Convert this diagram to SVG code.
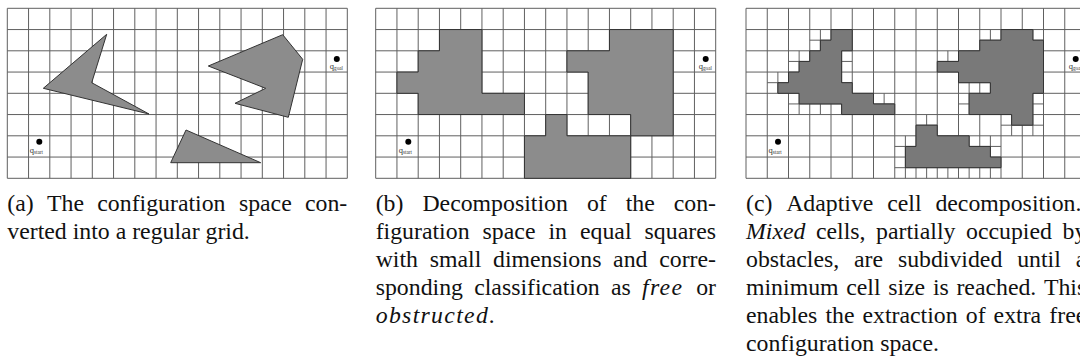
<svg xmlns="http://www.w3.org/2000/svg" xmlns:xlink="http://www.w3.org/1999/xlink" width="1080" height="363" viewBox="0 0 1080 363">
<style>
.grid{fill:none;stroke:#606060;stroke-width:1}
.sub{fill:none;stroke:#606060;stroke-width:1}
.obs{fill:#8c8c8c;stroke:#333;stroke-width:1;stroke-linejoin:miter}
.obsc{fill:#797979;stroke:#333;stroke-width:1}
.dot{fill:#000}
.q{font-family:"Liberation Serif",serif;font-size:8.5px;fill:#333}
.qs{font-size:5.2px}
.cap{font-family:"Liberation Serif",serif;font-size:23.8px;fill:#111}
.it{font-style:italic}
.m{font-style:italic;letter-spacing:1.3px}
</style>
<defs>
<path id="gridp" class="grid" d="M0 0V170M21.25 0V170M42.5 0V170M63.75 0V170M85 0V170M106.25 0V170M127.5 0V170M148.75 0V170M170 0V170M191.25 0V170M212.5 0V170M233.75 0V170M255 0V170M276.25 0V170M297.5 0V170M318.75 0V170M340 0V170M0 0H340M0 21.25H340M0 42.5H340M0 63.75H340M0 85H340M0 106.25H340M0 127.5H340M0 148.75H340M0 170H340"/>
</defs>
<rect width="1080" height="363" fill="#fff"/>

<g id="panel-a" transform="translate(7.3,8.3)">
<use xlink:href="#gridp" href="#gridp"/>
<polygon class="obs" points="36,80 99.4,26 84.4,74.4 141.7,105.7"/>
<polygon class="obs" points="201,57.7 275.4,26.4 295.4,51 281,109 227.7,95 258.4,80"/>
<polygon class="obs" points="178.7,121.7 253.4,154.4 163.4,154.4"/>
<g id="a-start"><circle class="dot" cx="32" cy="133.4" r="3"/><text class="q" x="22.5" y="144.5">q<tspan class="qs" dy="0.8">start</tspan></text></g>
<g id="a-goal"><circle class="dot" cx="329.5" cy="50.7" r="3"/><text class="q" x="322.5" y="61">q<tspan class="qs" dy="0.8">goal</tspan></text></g>
</g>

<g id="panel-b" transform="translate(375.7,8.3)">
<use xlink:href="#gridp" href="#gridp"/>
<polygon class="obs" points="63.75,21.25 106.25,21.25 106.25,85 148.75,85 148.75,106.25 42.5,106.25 42.5,85 21.25,85 21.25,63.75 42.5,63.75 42.5,42.5 63.75,42.5"/>
<polygon class="obs" points="233.75,21.25 297.5,21.25 297.5,127.5 255,127.5 255,106.25 212.5,106.25 212.5,63.75 191.25,63.75 191.25,42.5 233.75,42.5"/>
<polygon class="obs" points="170,106.25 191.25,106.25 191.25,127.5 255,127.5 255,170 148.75,170 148.75,127.5 170,127.5"/>
<g id="b-start"><circle class="dot" cx="32.6" cy="133.4" r="3"/><text class="q" x="23.1" y="144.5">q<tspan class="qs" dy="0.8">start</tspan></text></g>
<g id="b-goal"><circle class="dot" cx="330" cy="50.7" r="3"/><text class="q" x="323" y="61">q<tspan class="qs" dy="0.8">goal</tspan></text></g>
</g>

<g id="panel-c" transform="translate(746,8.3)">
<use xlink:href="#gridp" href="#gridp"/>
<path class="sub" d="M63.75 31.875H106.25M74.375 21.25v21.25M95.625 21.25v21.25
M42.5 53.125H106.25M53.125 42.5v21.25M74.375 42.5v21.25M95.625 42.5v21.25
M21.25 74.375H106.25M31.875 63.75v21.25M53.125 63.75v21.25M74.375 63.75v21.25M95.625 63.75v21.25
M42.5 95.625H148.75M53.125 85v21.25M74.375 85v21.25M95.625 85v21.25M116.875 85v21.25M138.125 85v21.25
M233.75 31.875H297.5M244.375 21.25v21.25M265.625 21.25v21.25M286.875 21.25v21.25
M191.25 53.125H255M276.25 53.125H297.5M201.875 42.5v21.25M223.125 42.5v21.25M244.375 42.5v21.25M286.875 42.5v21.25
M212.5 74.375H297.5M223.125 63.75v21.25M244.375 63.75v21.25M265.625 63.75v21.25M286.875 63.75v21.25
M212.5 95.625H297.5M223.125 85v21.25M244.375 85v21.25M265.625 85v21.25M286.875 85v21.25
M255 116.875H297.5M265.625 106.25v21.25M286.875 106.25v21.25
M170 116.875H191.25M180.625 106.25v21.25
M148.75 138.125H255M159.375 127.5v21.25M180.625 127.5v21.25M201.875 127.5v21.25M223.125 127.5v21.25M244.375 127.5v21.25
M148.75 159.375H255M159.375 148.75v21.25M180.625 148.75v21.25M201.875 148.75v21.25M223.125 148.75v21.25M244.375 148.75v21.25"/>
<polygon class="obsc" points="85,21.25 106.25,21.25 106.25,42.5 95.625,42.5 95.625,74.375 106.25,74.375 106.25,85 127.5,85 127.5,95.625 148.75,95.625 148.75,106.25 95.625,106.25 95.625,95.625 53.125,95.625 53.125,85 31.875,85 31.875,74.375 42.5,74.375 42.5,63.75 53.125,63.75 53.125,53.125 63.75,53.125 63.75,42.5 74.375,42.5 74.375,31.875 85,31.875"/>
<polygon class="obsc" points="255,21.25 286.875,21.25 286.875,31.875 297.5,31.875 297.5,85 286.875,85 286.875,116.875 265.625,116.875 265.625,106.25 223.125,106.25 223.125,85 244.375,85 244.375,74.375 212.5,74.375 212.5,63.75 191.25,63.75 191.25,53.125 212.5,53.125 212.5,42.5 233.75,42.5 233.75,31.875 255,31.875"/>
<polygon class="obsc" points="170,116.875 191.25,116.875 191.25,127.5 223.125,127.5 223.125,138.125 244.375,138.125 244.375,148.75 255,148.75 255,159.375 159.375,159.375 159.375,138.125 170,138.125"/>
<g id="c-start"><circle class="dot" cx="32" cy="133.4" r="3"/><text class="q" x="22.5" y="144.5">q<tspan class="qs" dy="0.8">start</tspan></text></g>
<g id="c-goal"><circle class="dot" cx="329.7" cy="50.7" r="3"/><text class="q" x="322.7" y="61">q<tspan class="qs" dy="0.8">goal</tspan></text></g>
</g>

<g id="caption-a">
<text class="cap"><tspan x="7.3" y="211">(a)</tspan><tspan x="47" y="211">The</tspan><tspan x="97.3" y="211">configuration</tspan><tspan x="238.9" y="211">space</tspan><tspan x="305" y="211">con-</tspan><tspan x="7.3" y="239">verted into a regular grid.</tspan></text>
</g>

<g id="caption-b">
<text class="cap"><tspan x="375.7" y="211">(b)</tspan><tspan x="422.4" y="211">Decomposition</tspan><tspan x="586.9" y="211">of</tspan><tspan x="625.7" y="211">the</tspan><tspan x="673.7" y="211">con-</tspan>
<tspan x="375.7" y="239">figuration</tspan><tspan x="482.6" y="239">space</tspan><tspan x="548.5" y="239">in</tspan><tspan x="580" y="239">equal</tspan><tspan x="644.6" y="239">squares</tspan>
<tspan x="375.7" y="267">with</tspan><tspan x="429.7" y="267">small</tspan><tspan x="493" y="267">dimensions</tspan><tspan x="613.1" y="267">and</tspan><tspan x="659.2" y="267">corre-</tspan>
<tspan x="375.7" y="295">sponding</tspan><tspan x="474.2" y="295">classification</tspan><tspan x="611" y="295">as</tspan><tspan class="m" x="642" y="295">free</tspan><tspan x="696.2" y="295">or</tspan>
<tspan class="m" x="375.7" y="323">obstructed.</tspan></text>
</g>

<g id="caption-c">
<text class="cap"><tspan x="746" y="211">(c)</tspan><tspan x="786.2" y="211">Adaptive</tspan><tspan x="887.2" y="211">cell</tspan><tspan x="935.4" y="211">decomposition.</tspan>
<tspan class="it" x="746" y="239">Mixed</tspan><tspan x="816" y="239">cells,</tspan><tspan x="876.1" y="239">partially</tspan><tspan x="966" y="239">occupied</tspan><tspan x="1062.5" y="239">by</tspan>
<tspan x="746" y="267">obstacles,</tspan><tspan x="854" y="267">are</tspan><tspan x="897.9" y="267">subdivided</tspan><tspan x="1017.2" y="267">until</tspan><tspan x="1075.7" y="267">a</tspan>
<tspan x="746" y="295">minimum</tspan><tspan x="846.2" y="295">cell</tspan><tspan x="888.2" y="295">size</tspan><tspan x="932.9" y="295">is</tspan><tspan x="956.4" y="295">reached.</tspan><tspan x="1043.9" y="295">This</tspan>
<tspan x="746" y="323">enables</tspan><tspan x="825.4" y="323">the</tspan><tspan x="862.5" y="323">extraction</tspan><tspan x="965.8" y="323">of</tspan><tspan x="993.6" y="323">extra</tspan><tspan x="1049.3" y="323">free</tspan>
<tspan x="746" y="351">configuration space.</tspan></text>
</g>
</svg>
